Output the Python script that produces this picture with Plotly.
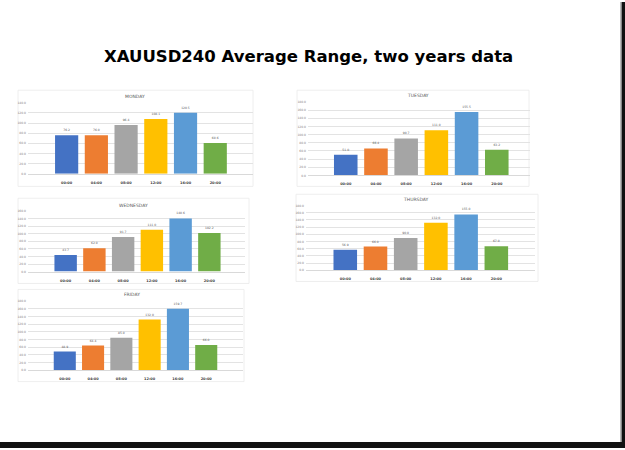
import plotly.graph_objects as go

W, H = 625, 450

hours = ["00:00", "04:00", "08:00", "12:00", "16:00", "20:00"]
bar_colors = ["#4472C4", "#ED7D31", "#A5A5A5", "#FFC000", "#5B9BD5", "#70AD47"]

days = ["MONDAY", "TUESDAY", "WEDNESDAY", "THURSDAY", "FRIDAY"]
monday = [76.2, 76.0, 96.4, 108.1, 120.5, 60.6]
tuesday = [51.0, 66.4, 90.7, 111.0, 155.5, 63.2]
wednesday = [43.7, 62.0, 91.7, 111.0, 140.6, 102.2]
thursday = [56.9, 66.0, 90.0, 132.0, 155.0, 67.0]
friday = [48.9, 64.4, 85.0, 132.0, 159.7, 66.0]
y_max = [140, 180, 160, 180, 180]

title_text = "XAUUSD240 Average Range, two years data"

series = [monday, tuesday, wednesday, thursday, friday]

# layout of each panel in pixels: frame box, plot area (x0,x1,ytop,ybase), x range, title pos
panels = [
    dict(frame=(18, 89, 253, 186), plot=(28, 253, 101.7, 173.3), xr=(-1.30, 6.27), title=(135, 95.7)),
    dict(frame=(297, 89, 529, 186), plot=(308, 530, 101.0, 175.0), xr=(-1.25, 6.10), title=(418, 94.3)),
    dict(frame=(18, 198, 249, 284), plot=(28, 245, 211.0, 272.0), xr=(-1.31, 6.24), title=(133, 205.0)),
    dict(frame=(296, 194, 538, 282), plot=(306, 535, 205.3, 270.7), xr=(-1.30, 6.28), title=(416, 199.3)),
    dict(frame=(18, 290, 244, 383), plot=(28, 243, 301.7, 371.7), xr=(-1.30, 6.30), title=(132, 295.0)),
]

def px(x):
    return x / W

def py(y):
    return 1 - y / H

fig = go.Figure()
shapes = []
annotations = []
layout_axes = {}

for i, (day, vals, p) in enumerate(zip(days, series, panels)):
    n = i + 1
    xa = "x" if n == 1 else f"x{n}"
    ya = "y" if n == 1 else f"y{n}"
    fig.add_trace(go.Bar(
        x=hours, y=vals, xaxis=xa, yaxis=ya,
        marker=dict(color=bar_colors, line=dict(width=0)),
        text=[f"{v:.1f}" for v in vals], textposition="outside",
        textfont=dict(size=3, color="#595959", family="DejaVu Sans"),
        cliponaxis=False, showlegend=False, hoverinfo="skip",
    ))
    x0, x1, yt, yb = p["plot"]
    layout_axes[f"xaxis{'' if n == 1 else n}"] = dict(
        domain=[px(x0), px(x1)], anchor=ya, type="category",
        range=list(p["xr"]), showgrid=False, zeroline=False,
        showline=True, linecolor="#D9D9D9", linewidth=0.6, ticks="",
        tickfont=dict(size=3.5, color="#404040", family="DejaVu Sans", weight="bold"),
        ticklabelstandoff=5, fixedrange=True,
    )
    layout_axes[f"yaxis{'' if n == 1 else n}"] = dict(
        domain=[py(yb), py(yt)], anchor=xa, range=[0, y_max[i]], dtick=20,
        tickformat=".1f", showgrid=True, gridcolor="#E3E3E3", gridwidth=0.6,
        zeroline=False, showline=False, ticks="",
        tickfont=dict(size=3, color="#7F7F7F", family="DejaVu Sans"),
        ticklabelstandoff=1, fixedrange=True,
    )
    fx0, fy0, fx1, fy1 = p["frame"]
    shapes.append(dict(type="rect", xref="paper", yref="paper",
                       x0=px(fx0), x1=px(fx1), y0=py(fy1), y1=py(fy0),
                       line=dict(color="#EAEAEA", width=0.8), fillcolor="rgba(0,0,0,0)", layer="below"))
    tx, ty = p["title"]
    annotations.append(dict(text=day, xref="paper", yref="paper", x=px(tx), y=py(ty),
                            showarrow=False, xanchor="center", yanchor="middle",
                            font=dict(size=4.5, color="#595959", family="DejaVu Sans")))

annotations.append(dict(text=f"<b>{title_text}</b>", xref="paper", yref="paper",
                        x=px(308), y=py(55), showarrow=False, xanchor="center", yanchor="middle",
                        font=dict(size=16.5, color="#000000", family="DejaVu Sans")))

# black page edges of the screenshot
shapes.append(dict(type="rect", xref="paper", yref="paper", x0=px(621.5), x1=1, y0=0, y1=1,
                   line=dict(width=0), fillcolor="#111111", layer="above"))
shapes.append(dict(type="line", xref="paper", yref="paper", x0=px(620.5), x1=px(620.5), y0=0, y1=1,
                   line=dict(color="#BBBBBB", width=1), layer="above"))
shapes.append(dict(type="rect", xref="paper", yref="paper", x0=0, x1=1, y0=0, y1=py(444),
                   line=dict(width=0), fillcolor="#111111", layer="above"))

fig.update_layout(
    width=W, height=H, margin=dict(l=0, r=0, t=0, b=0),
    paper_bgcolor="white", plot_bgcolor="white",
    bargap=0.22, shapes=shapes, annotations=annotations,
    font=dict(family="DejaVu Sans"),
    **layout_axes,
)

fig.write_html("out.html", config={"displayModeBar": False})
